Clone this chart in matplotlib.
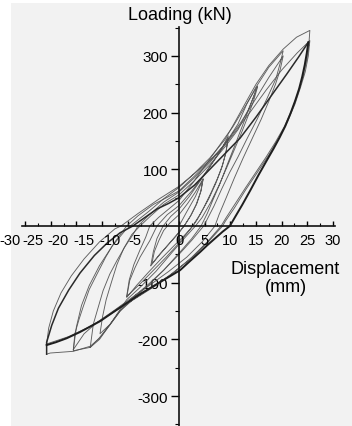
import numpy as np
import matplotlib.pyplot as plt
from matplotlib.patches import Rectangle
from matplotlib.ticker import MultipleLocator, FixedLocator

plt.rcParams['font.family'] = ['Liberation Sans', 'DejaVu Sans']

# === 滞回曲线数据 (位移 mm, 荷载 kN)，按加载级别分段 ===
loop_5 = np.array([
    (0, 0), (1.5, 25), (3.2, 52), (4.7, 83),
    (4.3, 62), (3.5, 40), (2.4, 20), (1.2, 3), (0, -12), (-1.8, -30), (-3.6, -48), (-5.3, -67),
    (-4.8, -45), (-3.9, -25), (-3.0, -8), (-1.8, 5), (0, 20), (1.7, 40), (3.2, 60), (4.7, 83),
    (4.2, 60), (3.3, 37), (2.2, 17), (1.0, 0), (-0.5, -16), (-2.2, -34), (-3.9, -52), (-5.5, -70)])

loop_10 = np.array([
    (-5.5, -70), (-5.0, -45), (-4.3, -22), (-3.1, 0), (-1.6, 17), (0, 30), (2.0, 52), (4.0, 78),
    (6.0, 104), (8.0, 131), (9.6, 159),
    (9.2, 132), (8.5, 108), (7.5, 84), (6.2, 58), (4.8, 32), (3.6, 12), (2.7, 0), (1.0, -17),
    (-1.0, -35), (-3.5, -58), (-6.0, -82), (-8.2, -104), (-10.2, -126),
    (-9.6, -96), (-8.6, -74), (-7.6, -55), (-5.7, -26), (-4.3, 0), (-2.3, 20), (0, 36), (2.5, 62),
    (5.0, 92), (7.5, 125), (9.6, 155),
    (9.1, 128), (8.3, 102), (7.2, 76), (5.8, 48), (4.2, 22), (3.0, 5), (2.0, -8), (0, -30),
    (-2.5, -55), (-5.2, -80), (-7.8, -104), (-10.2, -124)])

loop_15 = np.array([
    (-10.2, -124), (-9.7, -95), (-8.8, -68), (-7.6, -42), (-6.5, -20), (-5.7, 0), (-4.0, 15),
    (-2.0, 30), (0, 45), (3.0, 80), (6.0, 118), (8.5, 150), (10.5, 175), (12.5, 205), (14.0, 228),
    (15.3, 247),
    (14.0, 215), (12.5, 180), (11.0, 145), (9.3, 106), (8.0, 75), (6.7, 48), (5.5, 22), (4.3, 0),
    (2.5, -22), (0, -48), (-3.0, -78), (-6.0, -105), (-9.0, -128), (-11.5, -150), (-13.4, -173),
    (-15.4, -190),
    (-14.9, -160), (-14.2, -130), (-13.2, -100), (-12.1, -68), (-10.8, -40), (-9.2, -15), (-7.6, 0),
    (-5.5, 18), (-3.0, 38), (0, 55), (3.0, 80), (6.0, 108), (9.0, 140), (11.5, 170), (13.5, 205),
    (15.3, 245),
    (14.5, 220), (13.5, 195), (12.2, 165), (10.8, 135), (9.3, 103), (7.8, 72), (6.2, 42), (4.5, 15),
    (3.2, 0), (1.0, -22), (-1.5, -48), (-4.5, -80), (-7.8, -110), (-10.2, -130), (-13.4, -173),
    (-15.5, -197), (-17.3, -214)])

loop_20 = np.array([
    (-17.3, -214), (-16.7, -173), (-15.8, -145), (-14.8, -114), (-13.5, -85), (-12.1, -61),
    (-10.5, -36), (-8.9, -14), (-8.0, 0), (-6.0, 18), (-3.0, 42), (0, 60), (3.0, 85), (6.0, 112),
    (9.0, 145), (11.5, 180), (13.2, 215), (15.0, 245), (17.5, 280), (20.3, 309),
    (19.8, 290), (18.9, 260), (17.1, 224), (15.2, 188), (13.2, 153), (11.5, 122), (9.9, 95),
    (8.3, 65), (6.8, 35), (5.5, 12), (4.8, 0), (2.5, -25), (0, -50), (-3.0, -78), (-6.0, -103),
    (-8.5, -122), (-10.9, -143), (-13.4, -173), (-15.5, -200), (-17.3, -214), (-20.6, -220),
    (-20.3, -190), (-19.5, -165), (-18.7, -143), (-17.5, -112), (-16.0, -85), (-14.3, -55),
    (-12.8, -32), (-11.2, -12), (-10.2, 0), (-8.0, 18), (-5.0, 38), (-2.0, 52), (0, 62), (3.0, 88),
    (6.0, 115), (9.0, 145), (12.0, 182), (15.0, 225), (17.5, 262), (20.3, 300),
    (19.7, 275), (18.8, 250), (17.5, 220), (16.0, 188), (14.3, 155), (12.5, 120), (10.8, 85),
    (9.2, 50), (7.8, 20), (7.0, 0), (4.5, -28), (1.5, -55), (-2.0, -80), (-5.5, -103), (-9.0, -125),
    (-12.5, -148), (-16.0, -170), (-18.5, -190), (-20.6, -218)])

loop_25 = np.array([
    (-20.6, -218), (-20.0, -178), (-19.0, -140), (-17.5, -105), (-15.5, -70), (-13.0, -35),
    (-10.5, -8), (-9.5, 0), (-6.0, 25), (-3.0, 48), (0, 68), (3.0, 93), (6.0, 120), (9.0, 153),
    (11.0, 185), (13.2, 221), (15.0, 250), (17.5, 283), (20.3, 312), (22.9, 333), (25.5, 345),
    (25.3, 320), (24.9, 295), (24.2, 265), (23.2, 235), (22.0, 205), (20.5, 175), (18.8, 148),
    (17.0, 122), (15.0, 95), (13.0, 68), (11.0, 40), (9.2, 15), (8.2, 0), (5.5, -28), (2.5, -55),
    (-1.0, -82), (-4.5, -105), (-8.0, -125), (-11.5, -145), (-15.0, -165), (-18.0, -180),
    (-21.5, -195), (-25.8, -208),
    (-25.4, -180), (-24.5, -150), (-23.0, -118), (-21.0, -88), (-18.5, -58), (-15.5, -28),
    (-12.5, -5), (-11.3, 0), (-8.0, 22), (-4.0, 47), (0, 70), (4.0, 100), (8.0, 132), (10.6, 162),
    (13.8, 200), (17.0, 240), (20.0, 275), (23.0, 305), (25.5, 327),
    (25.2, 300), (24.6, 272), (23.7, 245), (22.6, 215), (21.2, 185), (19.5, 155), (17.5, 125),
    (15.3, 95), (13.0, 64), (10.8, 32), (9.0, 8), (8.5, 0), (5.5, -30), (2.0, -60), (-2.0, -88),
    (-6.0, -112), (-9.0, -130), (-11.5, -150), (-13.5, -175), (-15.5, -198), (-17.3, -212),
    (-20.6, -221), (-25.1, -224), (-25.8, -226)])

# 最后一圈（图中加粗）
final_reload = np.array([
    (-25.8, -226), (-25.8, -205), (-24.8, -175), (-23.5, -145), (-21.5, -113), (-19.3, -83),
    (-16.5, -52), (-14.0, -30), (-11.5, -12), (-9.0, 0), (-6.5, 16), (-4.3, 30), (-2.0, 40),
    (0, 50), (3.0, 72), (6.0, 100), (9.0, 128), (11.9, 155), (15.0, 192), (18.0, 230),
    (21.0, 268), (23.3, 298), (25.2, 324)])

final_unload = np.array([
    (25.2, 324), (24.9, 305), (24.5, 284), (24.0, 263), (23.4, 242), (22.6, 220), (21.7, 198),
    (20.7, 176), (19.6, 156), (18.4, 136), (17.0, 114), (15.5, 90), (13.9, 63), (12.3, 37),
    (11.0, 17), (9.9, 0), (8.5, -10), (7.0, -22), (5.5, -34), (4.1, -46), (2.0, -63), (0.2, -78),
    (-3.5, -98), (-7.6, -120), (-10.9, -140), (-15.4, -168), (-19.3, -187), (-21.9, -198),
    (-24.0, -205), (-25.8, -210)])

x_ticks = [-30, -25, -20, -15, -10, -5, 0, 5, 10, 15, 20, 25, 30]
y_ticks = [-300, -200, -100, 100, 200, 300]

# === 画图 ===
fig = plt.figure(figsize=(3.52, 4.27), dpi=100)
fig.add_artist(Rectangle((11 / 352, 0), 1, 1 - 4 / 427, transform=fig.transFigure,
                         facecolor='#f2f2f2', edgecolor='none', zorder=-10))

ax = fig.add_axes([22 / 352, 0, 313 / 352, 399 / 427])
ax.patch.set_visible(False)
ax.set_xlim(-30.6, 30.4)
ax.set_ylim(-352.7, 351)

for loop in [loop_5, loop_10, loop_15, loop_20, loop_25]:
    ax.plot(loop[:, 0], loop[:, 1], color='#4f4f4f', lw=0.65, alpha=0.9)
ax.plot(final_reload[:, 0], final_reload[:, 1], color='#2a2a2a', lw=1.1)
ax.plot(final_unload[:, 0], final_unload[:, 1], color='#1e1e1e', lw=1.4)

# 坐标轴过原点
for side in ['top', 'right']:
    ax.spines[side].set_visible(False)
ax.spines['left'].set_position(('data', 0))
ax.spines['bottom'].set_position(('data', 0))
for side in ['left', 'bottom']:
    ax.spines[side].set_linewidth(1.2)
    ax.spines[side].set_color('#111111')

ax.xaxis.set_major_locator(FixedLocator(x_ticks))
ax.xaxis.set_minor_locator(MultipleLocator(2.5))
ax.tick_params(axis='x', which='major', direction='in', length=3.5, width=1, labelbottom=False)
ax.tick_params(axis='x', which='minor', direction='in', length=2, width=0.8)

ax.yaxis.set_major_locator(FixedLocator(y_ticks))
ax.yaxis.set_minor_locator(FixedLocator([-350, -250, -150, -50, 50, 150, 250, 350]))
ax.tick_params(axis='y', which='major', direction='out', length=6, width=1, labelsize=11, pad=2)
ax.tick_params(axis='y', which='minor', direction='out', length=3, width=0.8)
ax.set_yticklabels([str(v) for v in y_ticks])

# 负刻度标签在原图中整体左移
for v in x_ticks:
    if v == -30:
        dx = -10.5
    elif v < 0:
        dx = -13
    else:
        dx = 0
    ax.annotate(str(v), xy=(v, 0), xytext=(dx, -10), textcoords='offset points',
                ha='center', va='center', fontsize=10.5, annotation_clip=False)

fig.text(180 / 352, 1 - 15 / 427, 'Loading (kN)', ha='center', va='center', fontsize=13)
fig.text(285.5 / 352, 1 - 278.5 / 427, 'Displacement\n(mm)', ha='center', va='center',
         fontsize=13, linespacing=1.1)

fig.savefig('out.png', dpi=100)
